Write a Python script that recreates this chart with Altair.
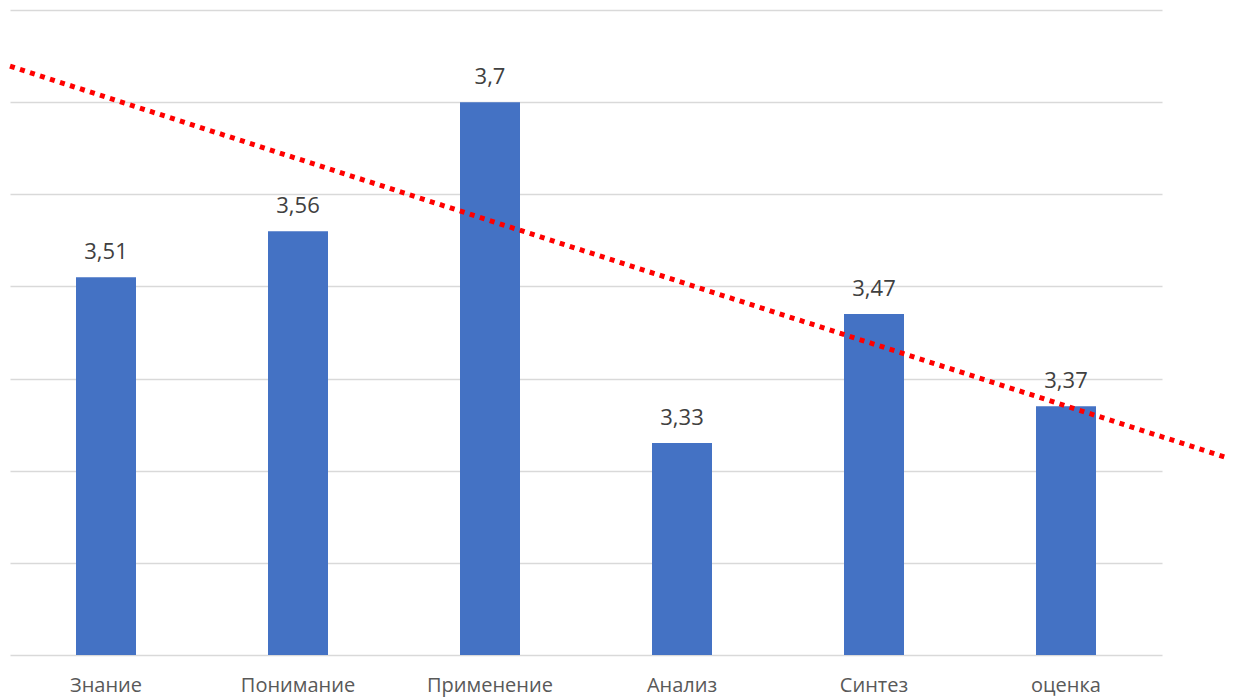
import altair as alt
import pandas as pd

categories = ["Знание", "Понимание", "Применение", "Анализ", "Синтез", "оценка"]
values = [3.51, 3.56, 3.70, 3.33, 3.47, 3.37]
labels = ["3,51", "3,56", "3,7", "3,33", "3,47", "3,37"]
grid_values = [3.1, 3.2, 3.3, 3.4, 3.5, 3.6, 3.7, 3.8]
baseline_value = 3.1

# dotted trend line (in category units, 0..6 spans the plot)
trend_x = [0.0, 6.37]
trend_y = [3.739, 3.312]

df = pd.DataFrame({"cat": categories, "val": values, "lab": labels})
tdf = pd.DataFrame({"tx": trend_x, "ty": trend_y})

FONT = "Open Sans"
yscale = alt.Scale(domain=[3.1, 3.8], nice=False, zero=False)

yaxis = alt.Axis(
    title=None,
    labels=False,
    ticks=False,
    domain=False,
    grid=True,
    gridColor="#D9D9D9",
    gridWidth=1.3,
    values=grid_values,
)

xaxis = alt.Axis(
    title=None,
    labelAngle=0,
    ticks=False,
    tickSize=0,
    domain=False,
    labelFont=FONT,
    labelFontSize=20,
    labelColor="#595959",
    labelBaseline="alphabetic",
    labelPadding=36,
    grid=False,
)

xscale = alt.Scale(paddingInner=0.6875, paddingOuter=0.34375)

bars = alt.Chart(df).mark_bar(color="#4472C4").encode(
    x=alt.X("cat:N", sort=categories, scale=xscale, axis=xaxis),
    y=alt.Y("val:Q", scale=yscale, axis=yaxis),
    y2=alt.datum(baseline_value),
)

text = alt.Chart(df).mark_text(
    font=FONT, fontSize=22, color="#404040", baseline="alphabetic", dy=-18
).encode(
    x=alt.X("cat:N", sort=categories, scale=xscale, axis=xaxis),
    y=alt.Y("val:Q", scale=yscale, axis=yaxis),
    text="lab:N",
)

base = alt.layer(bars, text)

trend = alt.Chart(tdf).mark_line(
    color="#FF0000", strokeWidth=5, strokeDash=[5, 5.5], strokeCap="butt", clip=False
).encode(
    x=alt.X("tx:Q", scale=alt.Scale(domain=[0, 6], nice=False, zero=False), axis=None),
    y=alt.Y("ty:Q", scale=yscale, axis=yaxis),
)

chart = (
    alt.layer(base, trend)
    .resolve_scale(x="independent")
    .properties(
        width=1152,
        height=645,
        background="white",
        autosize=alt.AutoSizeParams(type="none"),
        padding={"left": 2, "top": 2, "right": 63, "bottom": 42},
    )
    .configure_view(strokeWidth=0, stroke="transparent")
)

chart.save("out.html", embed_options={"renderer": "svg", "actions": False})
